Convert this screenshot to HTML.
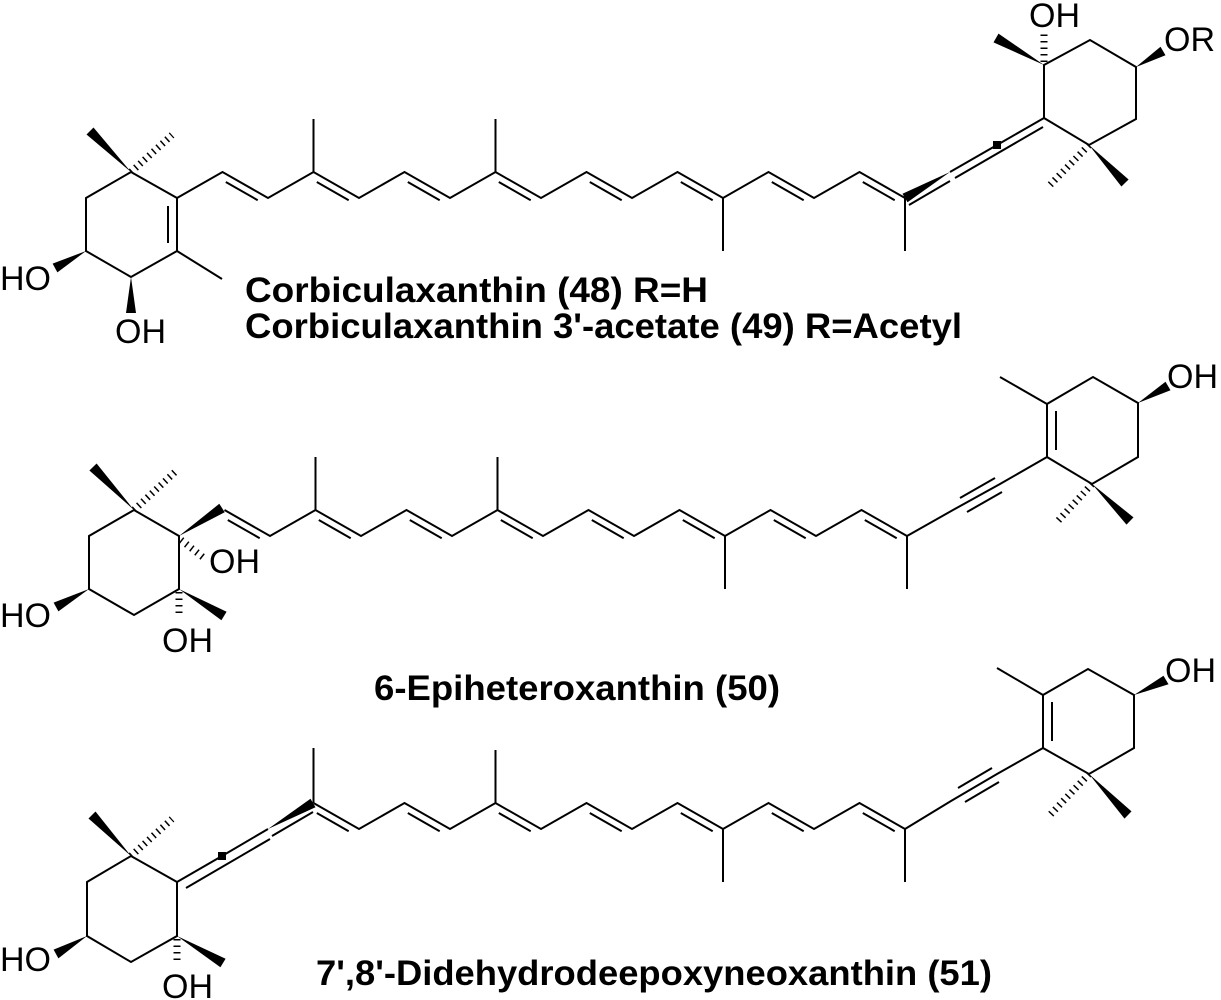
<!DOCTYPE html>
<html><head><meta charset="utf-8"><style>
html,body{margin:0;padding:0;background:#fff;width:1221px;height:1000px;overflow:hidden}
svg{display:block}
.a{font-family:"Liberation Sans",Arial,sans-serif;font-size:34px;fill:#000}
.t{font-family:"Liberation Sans",Arial,sans-serif;font-size:35px;font-weight:bold;fill:#000}
</style></head><body>
<svg width="1221" height="1000" viewBox="0 0 1221 1000" xmlns="http://www.w3.org/2000/svg">
<defs>
<g id="inner">
<line x1="316.8" y1="182" x2="348.7" y2="200.2"/>
<line x1="407.8" y1="182" x2="439.7" y2="200.2"/>
<line x1="498.8" y1="182" x2="530.7" y2="200.2"/>
<line x1="589.8" y1="182" x2="621.7" y2="200.2"/>
<line x1="680.8" y1="182" x2="712.7" y2="200.2"/>
<line x1="771.8" y1="182" x2="803.7" y2="200.2"/>
<line x1="862.8" y1="182" x2="894.7" y2="200.2"/>
<line x1="495.5" y1="172" x2="495.5" y2="119"/>
<line x1="723" y1="198" x2="723" y2="251"/>
<line x1="905" y1="198" x2="905" y2="251"/>
</g>
</defs>
<g stroke="#000" stroke-width="2" fill="none" stroke-linecap="butt">
<polygon points="131,172 86,198 86,251 131,277 177,251 177,198"/>
<line x1="168" y1="206" x2="168" y2="243"/>
<line x1="177" y1="251" x2="222" y2="279"/>
<polyline points="177,198 222.5,172 268,198 313.5,172 359,198 404.5,172 450,198 495.5,172 541,198 586.5,172 632,198 677.5,172 723,198 768.5,172 814,198 859.5,172 905,198"/>
<line x1="225.8" y1="182" x2="257.7" y2="200.2"/>
<line x1="313.5" y1="172" x2="313.5" y2="119"/>
<use href="#inner"/>
<line x1="131" y1="172" x2="172" y2="135" stroke-width="7" stroke-dasharray="1.5,4.5"/>
<polyline points="950,172 997,145 1044,118"/>
<line x1="955" y1="178" x2="1043" y2="127"/>
<line x1="909" y1="205" x2="950" y2="181"/>
<polygon points="1044,118 1044,65 1090,40 1136,67 1136,119 1089,145"/>
<line x1="1044" y1="62" x2="1044" y2="32" stroke-width="7" stroke-dasharray="1.5,5"/>
<line x1="1089" y1="145" x2="1050" y2="185" stroke-width="7" stroke-dasharray="1.5,4.5"/>

<polygon points="134,510 89,536 89,589 134,615 179,589 179,536"/>
<g transform="translate(2,338)">
<polyline points="222.5,172 268,198 313.5,172 359,198 404.5,172 450,198 495.5,172 541,198 586.5,172 632,198 677.5,172 723,198 768.5,172 814,198 859.5,172 905,198"/>
<line x1="225.8" y1="182" x2="257.7" y2="200.2"/>
<line x1="313.5" y1="172" x2="313.5" y2="119"/>
<use href="#inner"/>
</g>
<line x1="134" y1="510" x2="175" y2="472" stroke-width="7" stroke-dasharray="1.5,4.5"/>
<line x1="181" y1="540" x2="204" y2="558" stroke-width="7" stroke-dasharray="1.5,5"/>
<line x1="179" y1="592" x2="179" y2="614" stroke-width="7" stroke-dasharray="1.5,5"/>
<polygon points="1047,457 1047,404 1093,377 1138,403 1138,457 1092,484"/>
<line x1="1056" y1="411" x2="1056" y2="450"/>
<line x1="1047" y1="404" x2="1000" y2="377"/>
<line x1="1092" y1="484" x2="1057" y2="522" stroke-width="7" stroke-dasharray="1.5,4.5"/>
<polyline points="1047,457 1000,484 953,510 907,536"/>
<line x1="995" y1="478" x2="960" y2="498"/>
<line x1="1002" y1="492" x2="967" y2="512"/>

<polygon points="131,856 87,882 87,936 131,962 177,936 177,882"/>
<line x1="131" y1="856" x2="172" y2="819" stroke-width="7" stroke-dasharray="1.5,4.5"/>
<line x1="177" y1="939" x2="177" y2="960" stroke-width="7" stroke-dasharray="1.5,5"/>
<polyline points="177,882 222,856 268,829"/>
<line x1="186" y1="888" x2="270" y2="839"/>
<line x1="272" y1="836" x2="313" y2="812"/>
<g transform="translate(0,631)">
<polyline points="313.5,172 359,198 404.5,172 450,198 495.5,172 541,198 586.5,172 632,198 677.5,172 723,198 768.5,172 814,198 859.5,172 905,198"/>
<line x1="313.5" y1="172" x2="313.5" y2="117"/>
<use href="#inner"/>
</g>
<polygon points="1043,748 1043,695 1088,669 1134,695 1134,748 1089,774"/>
<line x1="1052" y1="702" x2="1052" y2="741"/>
<line x1="1043" y1="695" x2="997" y2="668"/>
<line x1="1089" y1="774" x2="1050" y2="815" stroke-width="7" stroke-dasharray="1.5,4.5"/>
<polyline points="1043,748 997,774 951,801 905,829"/>
<line x1="992" y1="768" x2="958" y2="788"/>
<line x1="999" y1="782" x2="965" y2="802"/>
</g>

<g fill="#000" stroke="none">
<polygon points="131,172 93.5,127.5 86.5,134.5"/>
<polygon points="86,251 57.4,272.4 52.6,263.6"/>
<polygon points="131,277 126,313 136,313"/>
<polygon points="950,172 907.5,202.3 902.5,193.7"/>
<rect x="993" y="141" width="8" height="8"/>
<polygon points="1044,65 998.5,33.6 993.5,42.4"/>
<polygon points="1136,67 1165.5,55.3 1160.5,46.7"/>
<polygon points="1089,145 1128.6,179.5 1121.4,186.5"/>
<polygon points="134,510 96.6,463.5 89.4,470.5"/>
<polygon points="179,536 224.7,512.2 219.3,503.8"/>
<polygon points="89,589 58.4,611.4 53.6,602.6"/>
<polygon points="179,589 226.6,611.7 221.4,620.3"/>
<polygon points="1138,403 1170.5,390.3 1165.5,381.7"/>
<polygon points="1092,484 1133.5,517.4 1126.5,524.6"/>
<polygon points="131,856 95.5,811.5 88.5,818.5"/>
<polygon points="87,936 58.4,958.4 53.6,949.6"/>
<polygon points="177,936 225.6,958.7 220.4,967.3"/>
<rect x="218" y="852" width="8" height="8"/>
<polygon points="268,829 315.5,807.3 310.5,798.7"/>
<polygon points="1134,695 1168.5,684.3 1163.5,675.7"/>
<polygon points="1089,774 1131.5,811.4 1124.5,818.6"/>
</g>

<text class="a" x="0" y="290">HO</text>
<text class="a" x="115" y="343">OH</text>
<text class="a" x="1029" y="27">OH</text>
<text class="a" x="1164" y="51">OR</text>
<text class="a" x="209" y="573">OH</text>
<text class="a" x="0" y="627">HO</text>
<text class="a" x="162" y="652">OH</text>
<text class="a" x="1167" y="388">OH</text>
<text class="a" x="0" y="971">HO</text>
<text class="a" x="162" y="998">OH</text>
<text class="a" x="1165" y="682">OH</text>

<text class="t" x="245" y="302" textLength="463" lengthAdjust="spacingAndGlyphs">Corbiculaxanthin (48)  R=H</text>
<text class="t" x="245" y="338" textLength="717" lengthAdjust="spacingAndGlyphs">Corbiculaxanthin 3'-acetate (49) R=Acetyl</text>
<text class="t" x="374" y="700" textLength="406" lengthAdjust="spacingAndGlyphs">6-Epiheteroxanthin (50)</text>
<text class="t" x="316" y="985" textLength="676" lengthAdjust="spacingAndGlyphs">7',8'-Didehydrodeepoxyneoxanthin (51)</text>
</svg>
</body></html>
